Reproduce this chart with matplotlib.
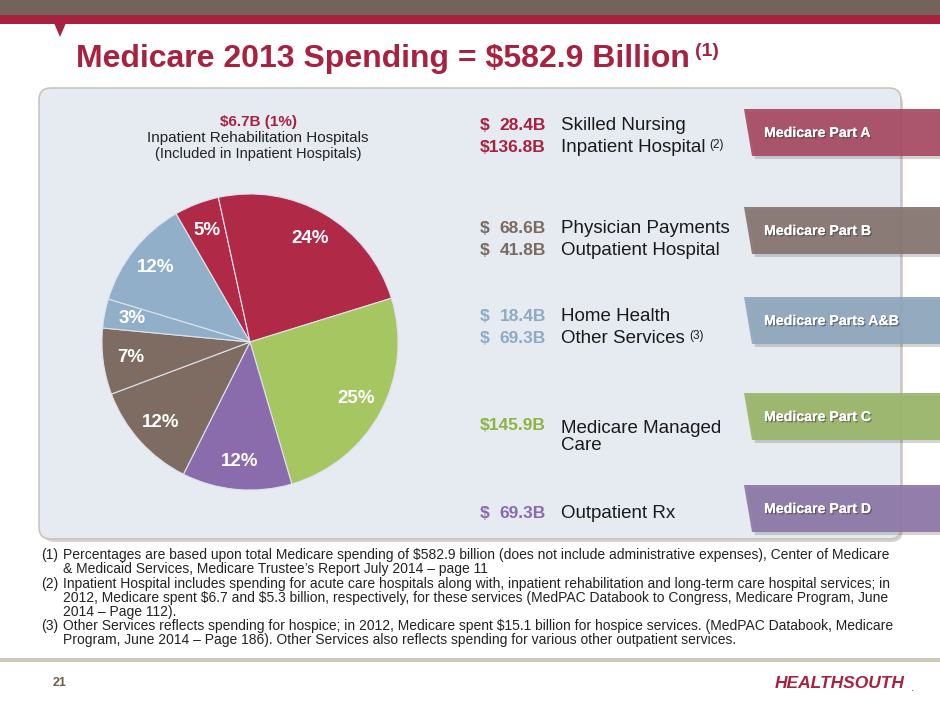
import matplotlib
matplotlib.use("Agg")
import matplotlib.pyplot as plt
from matplotlib.patches import Rectangle, Polygon, FancyBboxPatch
import matplotlib.patheffects as pe

# spending by service, in $B, clockwise from the top of the pie
categories = ["Skilled Nursing", "Inpatient Hospital", "Medicare Managed Care",
              "Outpatient Rx", "Physician Payments", "Outpatient Hospital",
              "Home Health", "Other Services"]
spending = [28.4, 136.8, 145.9, 69.3, 68.6, 41.8, 18.4, 69.3]
pct_labels = ["5%", "24%", "25%", "12%", "12%", "7%", "3%", "12%"]

# right-hand list (order as printed)
list_names = ["Skilled Nursing", "Inpatient Hospital", "Physician Payments",
              "Outpatient Hospital", "Home Health", "Other Services",
              "Medicare Managed\nCare", "Outpatient Rx"]
list_values = [28.4, 136.8, 68.6, 41.8, 18.4, 69.3, 145.9, 69.3]
list_notes = ["", "(2)", "", "", "", "(3)", "", ""]

part_labels = ["Medicare Part A", "Medicare Part B", "Medicare Parts A&B",
               "Medicare Part C", "Medicare Part D"]

footnotes = [
    ("(1)", ["Percentages are based upon total Medicare spending of $582.9 billion (does not include administrative expenses), Center of Medicare",
             "& Medicaid Services, Medicare Trustee\u2019s Report July 2014 \u2013 page 11"]),
    ("(2)", ["Inpatient Hospital includes spending for acute care hospitals along with, inpatient rehabilitation and long-term care hospital services; in",
             "2012, Medicare spent $6.7 and $5.3 billion, respectively, for these services (MedPAC Databook to Congress, Medicare Program, June",
             "2014 \u2013 Page 112)."]),
    ("(3)", ["Other Services reflects spending for hospice; in 2012, Medicare spent $15.1 billion for hospice services. (MedPAC Databook, Medicare",
             "Program, June 2014 \u2013 Page 186). Other Services also reflects spending for various other outpatient services."]),
]

CRIMSON = "#A8213F"
RED = "#B02A48"
GREEN = "#A6C662"
PURPLE = "#8A6CAC"
BROWN = "#7E6B62"
BLUE = "#91AFC9"
slice_colors = [RED, RED, GREEN, PURPLE, BROWN, BROWN, BLUE, BLUE]
list_colors = [CRIMSON, CRIMSON, "#7A6A62", "#7A6A62", "#8EAAC4", "#8EAAC4", "#8DB43E", "#8A6BAD"]
tag_colors = ["#A84C64", "#877670", "#8FA7BE", "#9BB66A", "#8E78A8"]

plt.rcParams["font.family"] = ["Liberation Sans", "DejaVu Sans"]
plt.rcParams["text.parse_math"] = False

W, H = 940, 705
fig = plt.figure(figsize=(W / 100, H / 100), dpi=100)
bg = fig.add_axes([0, 0, 1, 1])
bg.set_xlim(0, W)
bg.set_ylim(H, 0)
bg.axis("off")

# header bands
bg.add_patch(Rectangle((0, 0), W, 15, color="#73635A", lw=0))
bg.add_patch(Rectangle((0, 15), W, 9, color="#A8213F", lw=0))
bg.add_patch(Polygon([(54, 23), (66, 23), (60, 37)], closed=True, color="#A8213F", lw=0))

t = bg.text(76, 67, "Medicare 2013 Spending = $582.9 Billion", color=CRIMSON,
            fontsize=23, fontweight="bold", va="baseline", ha="left")
bg.annotate("(1)", xy=(1, 1), xycoords=t, xytext=(4, 1), textcoords="offset points",
            color=CRIMSON, fontsize=14, fontweight="bold", ha="left", va="top")

# panel
bg.add_patch(FancyBboxPatch((43, 92), 860, 450, boxstyle="round,pad=0,rounding_size=12",
                            facecolor="#B9B3AB", edgecolor="none", alpha=0.6))
bg.add_patch(FancyBboxPatch((39, 88), 862, 451, boxstyle="round,pad=0,rounding_size=12",
                            facecolor="#E6EBF2", edgecolor="#C9C4BC", lw=1.2))

# pie
cx, cy, r = 250, 342, 151
pax = fig.add_axes([(cx - r) / W, (H - cy - r) / H, 2 * r / W, 2 * r / H])
wedges, _, autotexts = pax.pie(spending, colors=slice_colors, startangle=120, counterclock=False,
                               autopct="%.0f%%", pctdistance=0.81,
                               wedgeprops=dict(edgecolor="#DDE3EC", linewidth=0.8))
for at, lab in zip(autotexts, pct_labels):
    at.set_text(lab)
    at.set_color("white")
    at.set_fontsize(13.5)
    at.set_fontweight("bold")
pax.set_xlim(-1.02, 1.02)
pax.set_ylim(-1.02, 1.02)

bg.text(258, 122, "$6.7B (1%)", color=CRIMSON, fontsize=11, fontweight="bold", ha="center", va="center")
bg.text(258, 138, "Inpatient Rehabilitation Hospitals", color="#222222", fontsize=11, ha="center", va="center")
bg.text(258, 154, "(Included in Inpatient Hospitals)", color="#222222", fontsize=10.5, ha="center", va="center")

# list of amounts
row_y = [126, 147.3, 228.3, 250.7, 316.7, 338.3, 436.8, 513.3]
for name, val, note, col, y in zip(list_names, list_values, list_notes, list_colors, row_y):
    ya = 426 if "\n" in name else y
    if val >= 100:
        bg.text(546, ya, f"${val:.1f}B", color=col, fontsize=12.5, fontweight="bold", ha="right", va="center")
    else:
        bg.text(480, ya, "$", color=col, fontsize=12.5, fontweight="bold", ha="left", va="center")
        bg.text(546, ya, f"{val:.1f}B", color=col, fontsize=12.5, fontweight="bold", ha="right", va="center")
    lt = bg.text(561, y, name, color="#1A1A1A", fontsize=13.5, ha="left", va="center", linespacing=1.0)
    if note:
        bg.annotate(note, xy=(1, 1), xycoords=lt, xytext=(3, 0), textcoords="offset points",
                    color="#1A1A1A", fontsize=8.5, ha="left", va="top")

# part tags
tag_top = [109, 207, 297, 393, 485]
for lab, col, y0 in zip(part_labels, tag_colors, tag_top):
    bg.add_patch(Polygon([(747, y0 + 3), (940, y0 + 3), (940, y0 + 50), (755, y0 + 50)],
                         closed=True, color="#555555", alpha=0.25, lw=0))
    bg.add_patch(Polygon([(744, y0), (940, y0), (940, y0 + 47), (752, y0 + 47)],
                         closed=True, color=col, alpha=0.93, lw=0))
    bg.text(764, y0 + 24, lab, color="white", fontsize=10.2, fontweight="bold", ha="left", va="center",
            path_effects=[pe.withSimplePatchShadow(offset=(1, -1), shadow_rgbFace="#333333", alpha=0.5),
                          pe.Normal()])

# footnotes
fy = [555, 584, 626]
for (num, lines), y in zip(footnotes, fy):
    bg.text(41, y, num, color="#222222", fontsize=10, ha="left", va="center")
    for i, line in enumerate(lines):
        bg.text(63, y + i * 14, line, color="#222222", fontsize=10, ha="left", va="center")

# footer
bg.add_patch(Rectangle((0, 658), W, 3.5, color="#CFC8B8", lw=0))
bg.text(53, 683, "21", color="#6B5E48", fontsize=9, fontweight="bold", ha="left", va="center")
bg.text(775, 683, "HEALTHSOUTH", color="#A8213F", fontsize=12.5, fontweight="bold", style="italic",
        ha="left", va="center")
bg.text(911, 688, ".", color="#A8213F", fontsize=9, ha="left", va="center")

fig.savefig("out.png", dpi=100)
